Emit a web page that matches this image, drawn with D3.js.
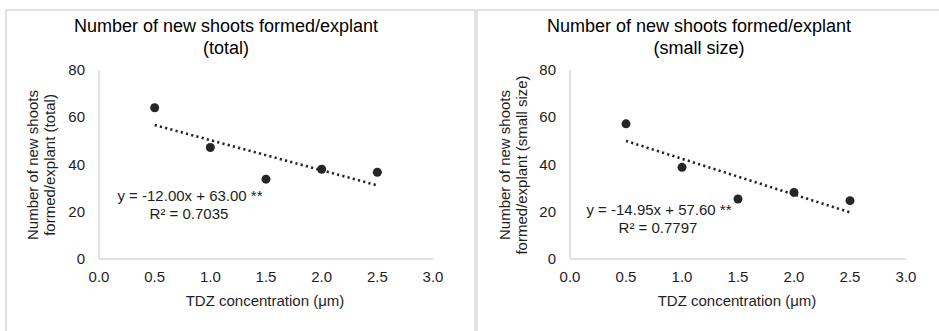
<!DOCTYPE html>
<html>
<head>
<meta charset="utf-8">
<script src="https://cdn.jsdelivr.net/npm/d3@7"></script>
<style>
  body { margin: 0; background: #fff; }
  svg { display: block; font-family: "Liberation Sans", Arial, sans-serif; }
</style>
</head>
<body>
<div id="chart"></div>
<script>
// data
const tdz = [0.5, 1.0, 1.5, 2.0, 2.5];
const shootsTotal = [64.0, 47.2, 33.8, 38.0, 36.7];
const shootsSmall = [57.2, 38.8, 25.4, 28.2, 24.7];
const xTicks = [0.0, 0.5, 1.0, 1.5, 2.0, 2.5, 3.0];
const yTicks = [0, 20, 40, 60, 80];
const titles = [
  ["Number of new shoots formed/explant", "(total)"],
  ["Number of new shoots formed/explant", "(small size)"]
];
const yLabels = [
  ["Number of new shoots", "formed/explant (total)"],
  ["Number of new shoots", "formed/explant (small size)"]
];
const equations = [
  ["y = -12.00x + 63.00 **", "R\u00b2 = 0.7035"],
  ["y = -14.95x + 57.60 **", "R\u00b2 = 0.7797"]
];
const xTitle = "TDZ concentration (\u03bcm)";

const width = 939, height = 331;
const textColor = "#1e1e1e";
const axisColor = "#d9d9d9";

const svg = d3.select("#chart").append("svg")
  .attr("width", width)
  .attr("height", height);

// panel frames
svg.append("rect").attr("x", 6).attr("y", 10).attr("width", 469).attr("height", 340)
  .attr("fill", "none").attr("stroke", axisColor).attr("stroke-width", 1.5);
svg.append("rect").attr("x", 477).attr("y", 10).attr("width", 480).attr("height", 340)
  .attr("fill", "none").attr("stroke", axisColor).attr("stroke-width", 1.5);

// least squares fit for the dotted trendline
function fit(xs, ys) {
  const mx = d3.mean(xs), my = d3.mean(ys);
  let sxy = 0, sxx = 0;
  xs.forEach((x, i) => { sxy += (x - mx) * (ys[i] - my); sxx += (x - mx) * (x - mx); });
  const b = sxy / sxx;
  return { slope: b, intercept: my - b * mx };
}

const panels = [
  { plotLeft: 99, plotRight: 433, values: shootsTotal, eqX: 190, eqY: 201, titleX: 226, ylx: 38 },
  { plotLeft: 570, plotRight: 906, values: shootsSmall, eqX: 659, eqY: 215, titleX: 699, ylx: 510 }
];

panels.forEach((p, k) => {
  const g = svg.append("g");
  const x = d3.scaleLinear().domain([0, 3]).range([p.plotLeft, p.plotRight]);
  const y = d3.scaleLinear().domain([0, 80]).range([259, 70]);

  // title
  g.append("text")
    .attr("x", p.titleX).attr("y", 32)
    .attr("text-anchor", "middle")
    .attr("font-size", 18).attr("fill", "#000")
    .selectAll("tspan").data(titles[k]).enter().append("tspan")
    .attr("x", p.titleX).attr("dy", (d, i) => i === 0 ? 0 : 22)
    .text(d => d);

  // axes lines
  g.append("line").attr("x1", x(0)).attr("x2", x(0)).attr("y1", y(80)).attr("y2", y(0))
    .attr("stroke", axisColor).attr("stroke-width", 1.5);
  g.append("line").attr("x1", x(0)).attr("x2", x(3)).attr("y1", y(0)).attr("y2", y(0))
    .attr("stroke", axisColor).attr("stroke-width", 1.5);

  // tick labels
  g.append("g").selectAll("text").data(yTicks).enter().append("text")
    .attr("x", x(0) - 14).attr("y", d => y(d) + 5)
    .attr("text-anchor", "end").attr("font-size", 15).attr("fill", textColor)
    .text(d => d);
  g.append("g").selectAll("text").data(xTicks).enter().append("text")
    .attr("x", d => x(d)).attr("y", 282)
    .attr("text-anchor", "middle").attr("font-size", 15).attr("fill", textColor)
    .text(d => d3.format(".1f")(d));

  // axis titles
  g.append("text")
    .attr("x", (p.plotLeft + p.plotRight) / 2 - 1).attr("y", 306)
    .attr("text-anchor", "middle").attr("font-size", 15).attr("fill", textColor)
    .text(xTitle);
  const yl = g.append("text")
    .attr("transform", "translate(" + p.ylx + ",165) rotate(-90)")
    .attr("text-anchor", "middle").attr("font-size", 15).attr("fill", textColor);
  yl.selectAll("tspan").data(yLabels[k]).enter().append("tspan")
    .attr("x", 0).attr("dy", (d, i) => i === 0 ? 0 : 17)
    .text(d => d);

  // trendline
  const f = fit(tdz, p.values);
  const x0 = tdz[0], x1 = tdz[tdz.length - 1];
  g.append("line")
    .attr("x1", x(x0)).attr("y1", y(f.intercept + f.slope * x0))
    .attr("x2", x(x1)).attr("y2", y(f.intercept + f.slope * x1))
    .attr("stroke", "#262626").attr("stroke-width", 2.6)
    .attr("stroke-dasharray", "2.2,3.2");

  // points
  g.append("g").selectAll("circle").data(tdz).enter().append("circle")
    .attr("cx", d => x(d)).attr("cy", (d, i) => y(p.values[i]))
    .attr("r", 4.5).attr("fill", "#262626");

  // equation
  g.append("text")
    .attr("text-anchor", "middle").attr("font-size", 15).attr("fill", textColor)
    .selectAll("tspan").data(equations[k]).enter().append("tspan")
    .attr("x", p.eqX).attr("y", (d, i) => p.eqY + i * 18)
    .attr("dx", (d, i) => i === 0 ? 0 : -1)
    .text(d => d);
});
</script>
</body>
</html>
